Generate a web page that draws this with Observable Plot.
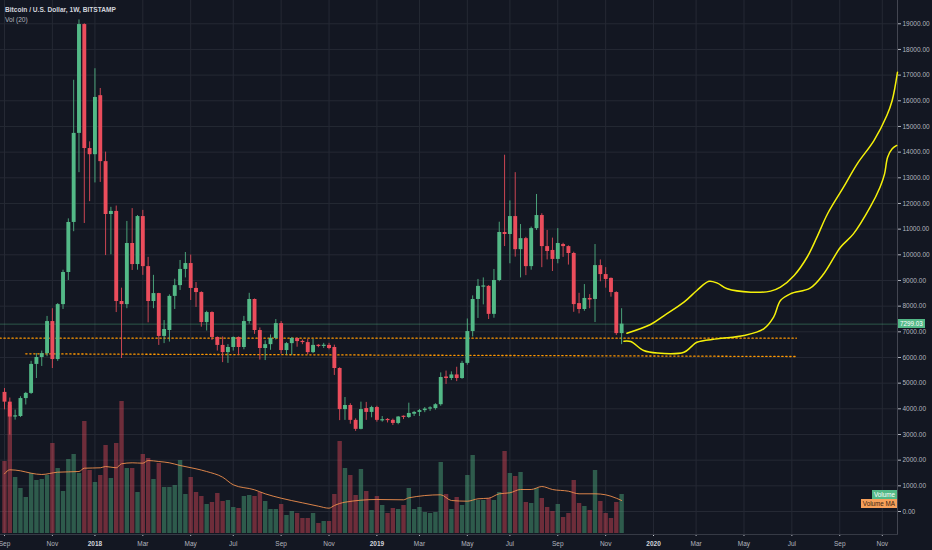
<!DOCTYPE html>
<html><head><meta charset="utf-8">
<script src="https://cdn.jsdelivr.net/npm/d3@7"></script>
<script src="https://cdn.jsdelivr.net/npm/@observablehq/plot@0.6"></script>
<style>
html,body{margin:0;padding:0;background:#131722;}
#chart{position:relative;width:932px;height:550px;overflow:hidden;background:#131722;font-family:"Liberation Sans",Arial,sans-serif;}
#chart svg{position:absolute;left:0;}
.title{position:absolute;left:5px;top:6px;font-size:6.6px;line-height:8px;font-weight:bold;color:#d1d4dc;}
.sub{position:absolute;left:5px;top:16px;font-size:6.6px;line-height:8px;color:#b2b5be;}
.tag{position:absolute;font-size:6.3px;height:9px;line-height:9px;padding:0 2px;white-space:nowrap;box-sizing:border-box;}
</style></head>
<body><div id="chart"></div>
<script>
// ---- data (weekly candles from week of 2017-09-04, BITSTAMP BTC/USD) ----
const firstWeek = "2017-09-04";
const open = [4640,4260,3680,3700,4400,4600,5730,6000,6150,7400,
  5920,8060,9310,11260,14730,18970,14140,13900,16200,13630,
  11570,11690,8180,8060,10440,9620,11490,9540,8180,8490,
  6820,7050,8380,8800,9430,9660,8690,8530,7360,7750,
  6780,6470,6190,6390,6780,6390,7400,8260,7050,6350,
  6500,6740,7320,6270,6540,6740,6620,6580,6190,6450,
  6430,6470,6390,5570,3970,4130,3550,3200,4010,3860,
  4050,3530,3570,3550,3430,3700,3660,3790,3860,3930,
  3990,4010,4160,5240,5180,5320,5180,5770,7010,8260,
  8740,8770,7680,9000,10870,10790,11490,10200,10630,9540,
  11020,11530,10320,10170,9820,10400,10320,10050,8100,7870,
  8300,8260,9580,9230,9080,8530,6930];
const high = [4790,4420,3950,4470,4640,5850,6150,6250,7600,7900,
  8100,9400,11400,16800,19150,19000,14400,17250,16480,14000,
  11850,11900,8700,11300,11800,11530,11730,9900,9200,8500,
  7440,8440,9050,9780,10090,9990,8920,8560,7800,7780,
  6800,6800,6500,6800,6800,7600,8500,8280,7150,6650,
  6880,7480,7400,6580,6780,6760,6680,6700,6700,6500,
  6550,6550,6480,5600,4440,4200,3610,4260,4250,4100,
  4100,3700,3620,3600,3700,3720,4220,3900,3980,4050,
  4080,4200,5400,5470,5440,5620,5850,7500,8400,9040,
  9100,8800,9430,11270,13880,12100,13200,11180,10680,11080,
  12350,11600,10950,10650,11020,10450,10350,10100,8500,8840,
  8450,10400,9800,9500,9100,8560,7900];
const low = [3960,2980,3560,3660,4150,4560,5180,5650,6030,5570,
  5850,7870,9000,10900,13200,11220,12070,12800,12820,9970,
  10000,7750,5960,7900,9390,9400,9200,7350,7900,6470,
  6540,6600,7870,8610,9100,8220,7950,7180,7030,6660,
  6250,5800,5770,6250,6080,6300,7300,6900,5900,5880,
  6280,6680,6130,6100,6080,6400,6500,6100,6150,6380,
  6350,6300,5300,3540,3550,3400,3122,3180,3550,3650,
  3480,3480,3450,3350,3380,3580,3620,3700,3700,3850,
  3900,3950,4100,4950,5100,5060,5150,5700,6800,7520,
  8050,7480,7530,8950,10320,9650,9910,9100,9190,9400,
  10950,9500,9800,9350,9650,9900,9600,7760,7700,7800,
  7900,7360,8950,8700,8350,6860,6500];
const close = [4260,3680,3700,4400,4600,5730,6000,6150,7400,5920,
  8060,9310,11260,14730,18970,14140,13900,16130,13630,11570,
  11690,8180,8060,10440,9620,11490,9540,8180,8490,6820,
  7090,8380,8800,9430,9660,8690,8530,7360,7750,6780,
  6470,6190,6390,6780,6390,7400,8260,7050,6350,6500,
  6740,7320,6270,6540,6740,6620,6580,6190,6470,6430,
  6450,6350,5570,3970,4130,3550,3200,3970,3860,4050,
  3550,3560,3540,3430,3680,3665,3820,3860,3930,3990,
  4010,4160,5220,5180,5320,5180,5770,7010,8260,8770,
  8770,7680,9000,10870,10790,11490,10200,10630,9540,11020,
  11530,10320,10130,9820,10440,10320,10050,8060,7870,8300,
  8240,9580,9230,9040,8530,6930,7299.03];
// volume (thousand BTC)
const volume = [72,128,56,45,36,60,53,54,58,90,
  65,42,74,79,60,112,63,51,58,88,
  55,90,132,65,65,41,79,75,54,70,
  46,46,48,73,39,56,41,37,29,31,
  40,32,33,26,25,37,38,37,41,32,
  24,24,29,18,22,20,15,15,20,10,
  12,12,39,92,65,58,38,64,42,23,
  37,28,20,25,24,28,45,24,26,21,
  20,21,71,39,24,36,28,58,78,33,
  33,35,33,41,82,60,57,61,31,30,
  45,35,26,22,29,16,20,53,30,27,
  23,63,32,20,15,31,39];
// Vol (20) moving average, read at these week indexes
const maWeek = [0,1,3,5,7,10,14,15,18,19,21,22,24,26,27,29,31,33,36,38,41,43,47,49,52,56,59,
  61,62,64,70,75,76,82,84,87,89,91,93,95,97,99,101,103,106,108,111,113,115,116];
const maValue = [59.7,63.7,62.7,60.3,59,61.3,62,65.3,65.7,67,65.7,69.7,70.7,70.3,73,72,70.7,68,64.7,62,56.3,48.7,43.7,39.7,35.3,30.7,27.3,
  25.3,28,31.3,34,33.7,35.7,38.7,33,32.3,34.7,35.3,39.7,40.7,44,44,47,44,42.3,39.7,39.7,38.7,35.3,33];
// projection curves drawn on the chart
const upperPathDates = ["2019-12-02","2020-01-02","2020-01-20","2020-02-15","2020-03-03","2020-03-19","2020-03-30","2020-04-12","2020-05-13","2020-06-08","2020-06-21","2020-07-09","2020-07-26","2020-08-08","2020-08-22","2020-09-12","2020-09-30","2020-10-22","2020-11-08","2020-11-15","2020-11-22"];
const upperPathPrice = [6946,7285,7635,8155,8610,8970,8895,8675,8545,8585,8740,9195,9905,10690,11600,12635,13545,14450,15425,16010,17115];
const lowerPathDates = ["2019-11-28","2019-12-07","2019-12-24","2020-01-11","2020-02-15","2020-02-24","2020-03-03","2020-03-30","2020-05-04","2020-05-30","2020-06-12","2020-06-21","2020-07-04","2020-07-30","2020-08-17","2020-09-08","2020-09-25","2020-10-17","2020-10-30","2020-11-05","2020-11-09","2020-11-15","2020-11-21"];
const lowerPathPrice = [6635,6620,6270,6170,6205,6400,6595,6725,6855,7115,7570,8220,8480,8700,9260,10295,10815,11855,12635,13155,13800,14130,14260];
// horizontal dotted levels
const resistanceDates = ["2017-08-29","2020-07-12"];
const resistancePrice = [6751,6751];
const supportDates = ["2017-10-02","2020-07-12"];
const supportPrice = [6143,6038];
// axes
const priceTicks = [0,1000,2000,3000,4000,5000,6000,7000,8000,9000,10000,11000,12000,13000,14000,15000,16000,17000,18000,19000];
const monthTickDates = ["2017-09-04","2017-11-06","2018-03-05","2018-05-07","2018-07-02","2018-09-03","2018-11-05","2019-03-04","2019-05-06","2019-07-01","2019-09-02","2019-11-04","2020-03-02","2020-05-04","2020-07-06","2020-09-07","2020-11-02"];
const monthTickLabels = ["Sep","Nov","Mar","May","Jul","Sep","Nov","Mar","May","Jul","Sep","Nov","Mar","May","Jul","Sep","Nov"];
const yearTickDates = ["2018-01-01","2019-01-07","2020-01-06"];
const yearTickLabels = ["2018","2019","2020"];

// ---- build ----
const UP = "#53b987", DOWN = "#eb4d5c";
const WEEK = 7 * 864e5;
const t0 = Date.parse(firstWeek + "T00:00:00Z");
const D = s => new Date(s + "T00:00:00Z");
const candles = open.map((o, i) => ({
  date: new Date(t0 + i * WEEK), open: o, high: high[i], low: low[i], close: close[i],
  volume: volume[i], color: close[i] >= o ? UP : DOWN
}));
const maPts = maWeek.map((w, i) => ({date: new Date(t0 + w * WEEK), v: maValue[i]}));
const upperPath = upperPathDates.map((d, i) => ({date: D(d), p: upperPathPrice[i]}));
const lowerPath = lowerPathDates.map((d, i) => ({date: D(d), p: lowerPathPrice[i]}));
const resistance = resistanceDates.map((d, i) => ({date: D(d), p: resistancePrice[i]}));
const support = supportDates.map((d, i) => ({date: D(d), p: supportPrice[i]}));
const monthDates = monthTickDates.map(D), yearDates = yearTickDates.map(D);
const labelMap = new Map();
monthDates.forEach((d, i) => labelMap.set(+d, monthTickLabels[i]));
yearDates.forEach((d, i) => labelMap.set(+d, yearTickLabels[i]));

const xDomain = [new Date("2017-08-29T17:41:00Z"), new Date("2020-11-22T00:00:00Z")];
const yDomain = [-896, 19907];
const PLOT_H = 534;
const onePx = (yDomain[1] - yDomain[0]) / PLOT_H;
const base = {
  width: 932, height: 550, marginLeft: 0, marginRight: 35, marginTop: 0, marginBottom: 16,
  color: {type: "identity"},
  style: {background: "transparent", fontFamily: "Liberation Sans, Arial, sans-serif"}
};

const gridLayer = Plot.plot({
  ...base,
  x: {type: "utc", domain: xDomain},
  y: {domain: yDomain},
  marks: [
    Plot.gridY(priceTicks, {stroke: "#252934", strokeOpacity: 1}),
    Plot.gridX(monthDates.concat(yearDates), {stroke: "#252934", strokeOpacity: 1}),
    Plot.axisY(priceTicks, {anchor: "right", tickSize: 3, tickPadding: 2, fontSize: 6.5,
      color: "#b2b5be", tickFormat: d => d.toFixed(2)}),
    Plot.axisX(monthDates, {anchor: "bottom", tickSize: 2, tickPadding: 5, fontSize: 6.5,
      color: "#b2b5be", tickFormat: d => labelMap.get(+d)}),
    Plot.axisX(yearDates, {anchor: "bottom", tickSize: 2, tickPadding: 5, fontSize: 6.5,
      fontWeight: "bold", color: "#d1d4dc", tickFormat: d => labelMap.get(+d)}),
    Plot.frame({anchor: "right", stroke: "#434651"}),
    Plot.frame({anchor: "bottom", stroke: "#363a45"})
  ]
});

const volLayer = Plot.plot({
  width: 932, height: 134, marginLeft: 0, marginRight: 35, marginTop: 0, marginBottom: 1,
  color: {type: "identity"},
  style: {background: "transparent"},
  x: {type: "utc", domain: xDomain, axis: null},
  y: {domain: [0, 133], axis: null},
  marks: [
    Plot.ruleX(candles, {x: "date", y1: 0, y2: "volume", stroke: "color", strokeOpacity: 0.42, strokeWidth: 4.4}),
    Plot.line(maPts, {x: "date", y: "v", stroke: "#f0904e", strokeWidth: 0.9, curve: "monotone-x"})
  ]
});

const candleLayer = Plot.plot({
  ...base,
  x: {type: "utc", domain: xDomain, axis: null},
  y: {domain: yDomain, axis: null},
  marks: [
    Plot.ruleY([close[close.length - 1]], {stroke: UP, strokeOpacity: 0.5, strokeWidth: 0.8}),
    Plot.line(resistance, {x: "date", y: "p", stroke: "#ff9800", strokeWidth: 1.3, strokeDasharray: "1.3,2.7"}),
    Plot.line(support, {x: "date", y: "p", stroke: "#ff9800", strokeWidth: 1.3, strokeDasharray: "1.3,2.7"}),
    Plot.ruleX(candles, {x: "date", y1: "low", y2: "high", stroke: "color", strokeWidth: 1, strokeOpacity: 0.85}),
    Plot.ruleX(candles, {x: "date",
      y1: d => Math.min(d.open, d.close),
      y2: d => Math.max(d.open, d.close, Math.min(d.open, d.close) + onePx * 1.2),
      stroke: "color", strokeWidth: 3.9}),
    Plot.line(upperPath, {x: "date", y: "p", stroke: "#f5f10a", strokeWidth: 1.5, curve: "catmull-rom"}),
    Plot.line(lowerPath, {x: "date", y: "p", stroke: "#f5f10a", strokeWidth: 1.5, curve: "catmull-rom"})
  ]
});

const chart = document.getElementById("chart");
gridLayer.style.top = "0px";
volLayer.style.top = "400px";
candleLayer.style.top = "0px";
chart.append(gridLayer, volLayer, candleLayer);

const title = document.createElement("div");
title.className = "title"; title.textContent = "Bitcoin / U.S. Dollar, 1W, BITSTAMP";
const sub = document.createElement("div");
sub.className = "sub"; sub.textContent = "Vol (20)";
chart.append(title, sub);

function tag(text, yCenter, right, bg, fg, left) {
  const el = document.createElement("div");
  el.className = "tag"; el.textContent = text;
  el.style.background = bg; el.style.color = fg;
  el.style.top = (yCenter - 4.5) + "px";
  if (left != null) el.style.left = left + "px";
  else el.style.right = right + "px";
  chart.append(el);
  return el;
}
const lastClose = close[close.length - 1];
tag(lastClose.toFixed(2), candleLayer.scale("y").apply(lastClose), null, UP, "#ffffff", 898);
const vy = volLayer.scale("y");
const volY = 400 + vy.apply(volume[volume.length - 1]);
let maY = 400 + vy.apply(maValue[maValue.length - 1]);
if (maY < volY + 9) maY = volY + 9;
tag("Volume", volY, 35, UP, "#ffffff");
tag("Volume MA", maY, 35, "#f7a05a", "#3a2410");
</script>
</body></html>
